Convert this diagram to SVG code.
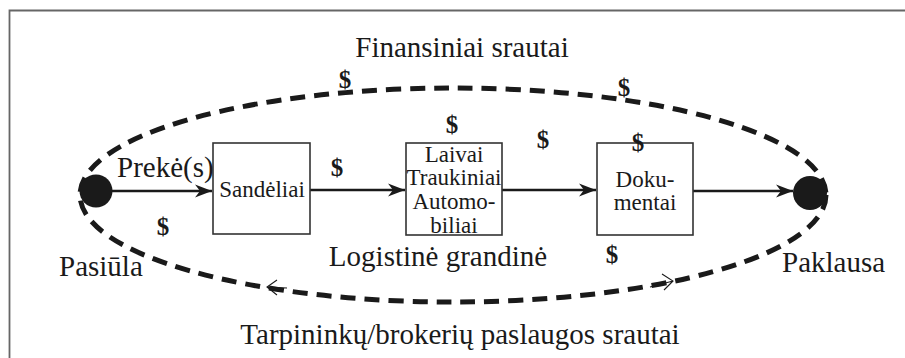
<svg xmlns="http://www.w3.org/2000/svg" width="905" height="358" viewBox="0 0 905 358">
<style>
text{font-family:'Liberation Serif','DejaVu Serif',serif;fill:#1a1a1a}
.big{font-size:29px}
.box{fill:#fff;stroke:#333;stroke-width:1.6}
.bt{font-size:23px;text-anchor:middle}
.usd{font-size:25px;font-weight:bold;text-anchor:middle}
.flow{fill:none;stroke:#1a1a1a;stroke-width:2.6}
.dash{fill:none;stroke:#1a1a1a;stroke-width:5;stroke-dasharray:15 9}
.thin{fill:none;stroke:#1a1a1a;stroke-width:1.1}
.dot{fill:#1a1a1a}
</style>
<defs>
<marker id="ah" markerUnits="userSpaceOnUse" markerWidth="18" markerHeight="14" viewBox="-17 -7 18 14" refX="0" refY="0" orient="auto">
<path d="M0,0 L-17,-6.5 L-12,0 L-17,6.5 Z" fill="#1a1a1a"/>
</marker>
</defs>
<rect width="905" height="358" fill="#fff"/>
<path d="M9.5,358 L9.5,10.5 L905,10.5" fill="none" stroke="#666" stroke-width="1.8"/>
<g id="connectors">
<ellipse class="dash" cx="453" cy="195" rx="373" ry="107"/>
<line class="flow" x1="110" y1="191" x2="212" y2="191" marker-end="url(#ah)"/>
<line class="flow" x1="310" y1="190" x2="405" y2="190" marker-end="url(#ah)"/>
<line class="flow" x1="502" y1="190" x2="596" y2="190" marker-end="url(#ah)"/>
<line class="flow" x1="693" y1="191" x2="793" y2="191" marker-end="url(#ah)"/>
<path class="thin" d="M287,288 L267,287 M277,280 L267,287 L277,295"/>
<path class="thin" d="M650,287 L673,281 M662,274 L673,281 L664,290"/>
</g>
<g font-family="Liberation Serif, DejaVu Serif, serif">
<g id="supply">
<circle class="dot" cx="96" cy="191" r="16.5"/>
<text class="big" x="59" y="276">Pasiūla</text>
</g>
<g id="demand">
<circle class="dot" cx="810" cy="193" r="17"/>
<text class="big" x="782" y="272">Paklausa</text>
</g>
<g id="sandeliai">
<rect class="box" x="213" y="143" width="97" height="91"/>
<text class="bt" x="262" y="197">Sandėliai</text>
</g>
<g id="transport">
<rect class="box" x="406" y="143" width="96" height="92"/>
<text class="bt" x="454" y="162">Laivai</text>
<text class="bt" x="454" y="185">Traukiniai</text>
<text class="bt" x="454" y="209">Automo-</text>
<text class="bt" x="454" y="233">biliai</text>
</g>
<g id="dokumentai">
<rect class="box" x="597" y="143" width="96" height="92"/>
<text class="bt" x="645" y="187">Doku-</text>
<text class="bt" x="645" y="210">mentai</text>
</g>
<g id="labels">
<text class="big" x="462" y="57" text-anchor="middle">Finansiniai srautai</text>
<text class="big" x="117" y="177" font-size="28">Prekė(s)</text>
<text class="big" x="438" y="266" text-anchor="middle">Logistinė grandinė</text>
<text class="big" x="460" y="344" text-anchor="middle">Tarpininkų/brokerių paslaugos srautai</text>
<text class="usd" x="345" y="88">$</text>
<text class="usd" x="624" y="96">$</text>
<text class="usd" x="452" y="133">$</text>
<text class="usd" x="543" y="148">$</text>
<text class="usd" x="638" y="151">$</text>
<text class="usd" x="337" y="176">$</text>
<text class="usd" x="163" y="235">$</text>
<text class="usd" x="612" y="263">$</text>
</g>
</g>
</svg>
